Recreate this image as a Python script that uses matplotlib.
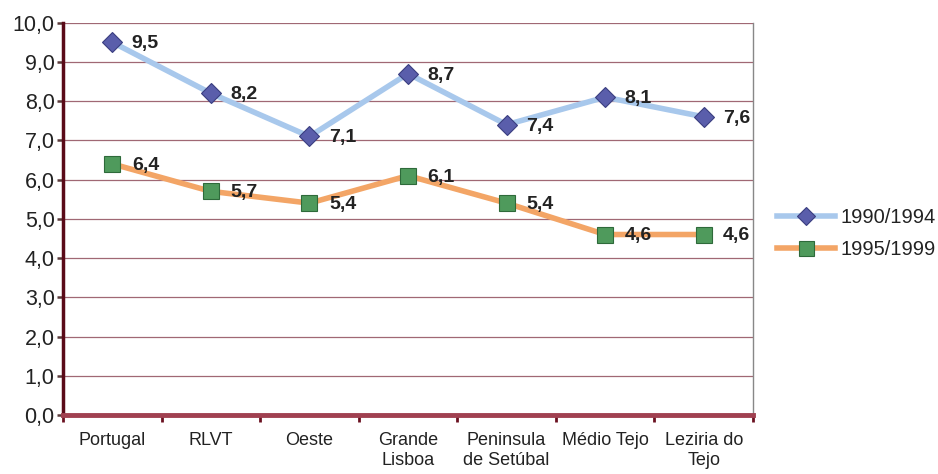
import matplotlib
matplotlib.use("Agg")
import matplotlib.pyplot as plt

plt.rcParams['font.family'] = ['Liberation Sans', 'DejaVu Sans']

categories = ["Portugal", "RLVT", "Oeste", "Grande\nLisboa", "Peninsula\nde Setúbal", "Médio Tejo", "Leziria do\nTejo"]
s1_name = "1990/1994"
s1 = [9.5, 8.2, 7.1, 8.7, 7.4, 8.1, 7.6]
s2_name = "1995/1999"
s2 = [6.4, 5.7, 5.4, 6.1, 5.4, 4.6, 4.6]
yticks = [0, 1, 2, 3, 4, 5, 6, 7, 8, 9, 10]

fig = plt.figure(figsize=(9.38, 4.74), dpi=100)
ax = fig.add_axes([0.0672, 0.1245, 0.7356, 0.8277])

x = list(range(len(categories)))
ax.plot(x, s1, color='#a8c8ec', lw=4, marker='D', ms=10, mfc='#5a5eab', mec='#3a3e80', mew=0.8,
        label=s1_name, zorder=3, clip_on=False)
ax.plot(x, s2, color='#f3a566', lw=4, marker='s', ms=12, mfc='#4f9a5c', mec='#2e6a3a', mew=0.8,
        label=s2_name, zorder=3, clip_on=False)

for xi, v in zip(x, s1):
    ax.annotate(f"{v:.1f}".replace('.', ','), (xi, v), xytext=(14, -1), textcoords='offset points',
                ha='left', va='center', fontsize=14, fontweight='bold', color='#222222', zorder=4)
for xi, v in zip(x, s2):
    ax.annotate(f"{v:.1f}".replace('.', ','), (xi, v), xytext=(14, -1), textcoords='offset points',
                ha='left', va='center', fontsize=14, fontweight='bold', color='#222222', zorder=4)

ax.set_xlim(-0.5, len(categories) - 0.5)
ax.set_ylim(0, 10)
ax.set_yticks(yticks)
ax.set_yticklabels([f"{t:.1f}".replace('.', ',') for t in yticks], fontsize=15.5, color='#222222')
ax.set_xticks(x)
ax.set_xticklabels(categories, fontsize=13, color='#222222', linespacing=1.25)
ax.tick_params(axis='x', length=0, pad=12)
ax.set_xticks([i + 0.5 for i in range(-1, len(categories))], minor=True)
ax.tick_params(axis='x', which='minor', length=5, width=2, color='#6a1020', direction='out')
ax.tick_params(axis='y', length=4, width=1.8, color='#5a3a3a', direction='out', pad=2)

ax.grid(axis='y', color='#a06874', lw=0.9)
ax.set_axisbelow(True)
ax.spines['left'].set_color('#5a0a18')
ax.spines['left'].set_linewidth(2.5)
ax.spines['bottom'].set_color('#a04050')
ax.spines['bottom'].set_linewidth(3.5)
ax.spines['right'].set_color('#888888')
ax.spines['right'].set_linewidth(1)
ax.spines['top'].set_visible(False)

leg = fig.legend(handles=ax.get_lines(), labels=[s1_name, s2_name], loc='center left',
                 bbox_to_anchor=(777 / 938, 1 - 233.5 / 474), bbox_transform=fig.transFigure,
                 frameon=False, fontsize=14.5, borderpad=0, borderaxespad=0,
                 handlelength=2.9, handletextpad=0.25, labelspacing=0.62, markerscale=0.9)
for t in leg.get_texts():
    t.set_color('#222222')

fig.savefig("out.png", dpi=100)
